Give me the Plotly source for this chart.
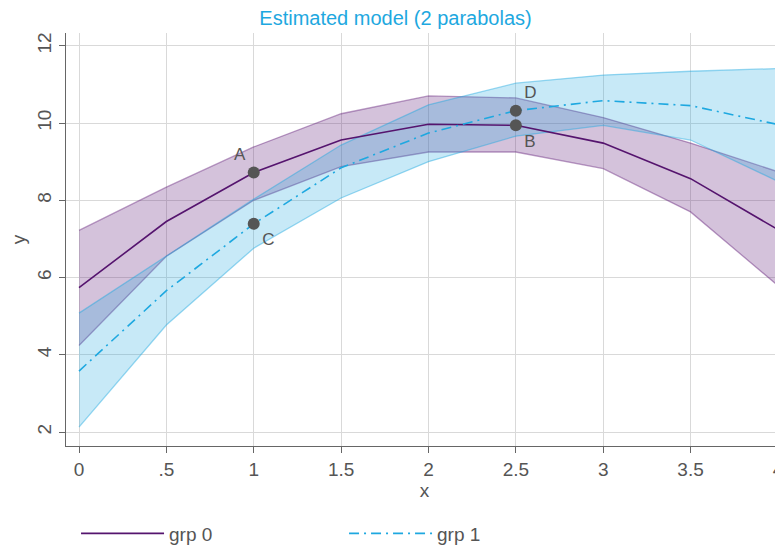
import plotly.graph_objects as go

x_vals = [0, 0.5, 1, 1.5, 2, 2.5, 3, 3.5, 4]
grp0_mean = [5.74, 7.45, 8.72, 9.56, 9.97, 9.94, 9.48, 8.56, 7.24]
grp0_upper = [7.22, 8.34, 9.38, 10.24, 10.70, 10.65, 10.14, 9.48, 8.74]
grp0_lower = [4.24, 6.55, 8.00, 8.87, 9.25, 9.25, 8.82, 7.70, 5.79]
grp1_mean = [3.58, 5.66, 7.39, 8.84, 9.74, 10.32, 10.58, 10.45, 9.96]
grp1_upper = [5.08, 6.55, 8.03, 9.43, 10.47, 11.03, 11.24, 11.34, 11.41]
grp1_lower = [2.13, 4.77, 6.76, 8.06, 9.00, 9.66, 9.94, 9.56, 8.49]

pt_labels = ["A", "B", "C", "D"]
pt_x = [1, 2.5, 1, 2.5]
pt_y = [8.72, 9.94, 7.39, 10.32]
pt_pos = ["top left", "bottom right", "bottom right", "top right"]

x_tickvals = [0, 0.5, 1, 1.5, 2, 2.5, 3, 3.5, 4]
x_ticktext = ["0", ".5", "1", "1.5", "2", "2.5", "3", "3.5", "4"]
y_tickvals = [2, 4, 6, 8, 10, 12]

PURPLE = "#55146e"
BLUE = "#1ea8e0"
GRAY = "#555555"
FONT = "Liberation Sans, Arial, sans-serif"

fig = go.Figure()

# grp 0 band
fig.add_trace(go.Scatter(x=x_vals, y=grp0_upper, mode="lines",
                         line=dict(color="rgba(102,35,125,0.45)", width=1.3),
                         showlegend=False, hoverinfo="skip"))
fig.add_trace(go.Scatter(x=x_vals, y=grp0_lower, mode="lines", fill="tonexty",
                         fillcolor="rgba(102,35,125,0.28)",
                         line=dict(color="rgba(102,35,125,0.45)", width=1.3),
                         showlegend=False, hoverinfo="skip"))
# grp 1 band
fig.add_trace(go.Scatter(x=x_vals, y=grp1_upper, mode="lines",
                         line=dict(color="rgba(31,169,225,0.45)", width=1.3),
                         showlegend=False, hoverinfo="skip"))
fig.add_trace(go.Scatter(x=x_vals, y=grp1_lower, mode="lines", fill="tonexty",
                         fillcolor="rgba(31,169,225,0.25)",
                         line=dict(color="rgba(31,169,225,0.45)", width=1.3),
                         showlegend=False, hoverinfo="skip"))

fig.add_trace(go.Scatter(x=x_vals, y=grp0_mean, mode="lines", name="grp 0",
                         line=dict(color=PURPLE, width=1.6)))
fig.add_trace(go.Scatter(x=x_vals, y=grp1_mean, mode="lines", name="grp 1",
                         line=dict(color=BLUE, width=1.6, dash="10px,5px,2px,5px")))

fig.add_trace(go.Scatter(x=pt_x, y=pt_y, mode="markers+text", text=pt_labels,
                         textposition=pt_pos,
                         textfont=dict(color=GRAY, size=17, family=FONT),
                         marker=dict(color=GRAY, size=12),
                         showlegend=False))

fig.update_layout(
    width=775, height=545,
    margin=dict(l=58, r=0, t=25, b=100),
    paper_bgcolor="white", plot_bgcolor="white",
    font=dict(family=FONT, color=GRAY, size=19),
    title=dict(text="Estimated model (2 parabolas)", x=0.5, xanchor="center",
               y=0.982, yanchor="middle", font=dict(color=BLUE, size=20, family=FONT)),
    legend=dict(orientation="h", x=0.014, xanchor="left", y=-0.212, yanchor="middle",
                font=dict(size=19, color=GRAY), itemwidth=83,
                entrywidth=170, entrywidthmode="pixels", traceorder="normal"),
    showlegend=True,
)
fig.update_xaxes(range=[-0.0744, 4.029], tickvals=x_tickvals, ticktext=x_ticktext,
                 automargin=False, ticklabeloverflow="allow",
                 showgrid=True, gridcolor="#d9d9d9", gridwidth=1, zeroline=False,
                 showline=True, linecolor="#666666", linewidth=1.2,
                 ticks="outside", ticklen=6, tickcolor="#666666",
                 title=dict(text="x", standoff=0, font=dict(size=19, color=GRAY)),
                 tickfont=dict(size=19, color=GRAY))
fig.update_yaxes(range=[1.64, 12.33], tickvals=y_tickvals, tickangle=-90,
                 automargin=False,
                 showgrid=True, gridcolor="#d9d9d9", gridwidth=1, zeroline=False,
                 showline=True, linecolor="#666666", linewidth=1.2,
                 ticks="outside", ticklen=6, tickcolor="#666666",
                 title=dict(text="y", standoff=4, font=dict(size=19, color=GRAY)),
                 tickfont=dict(size=19, color=GRAY))

fig.write_html("out.html")
